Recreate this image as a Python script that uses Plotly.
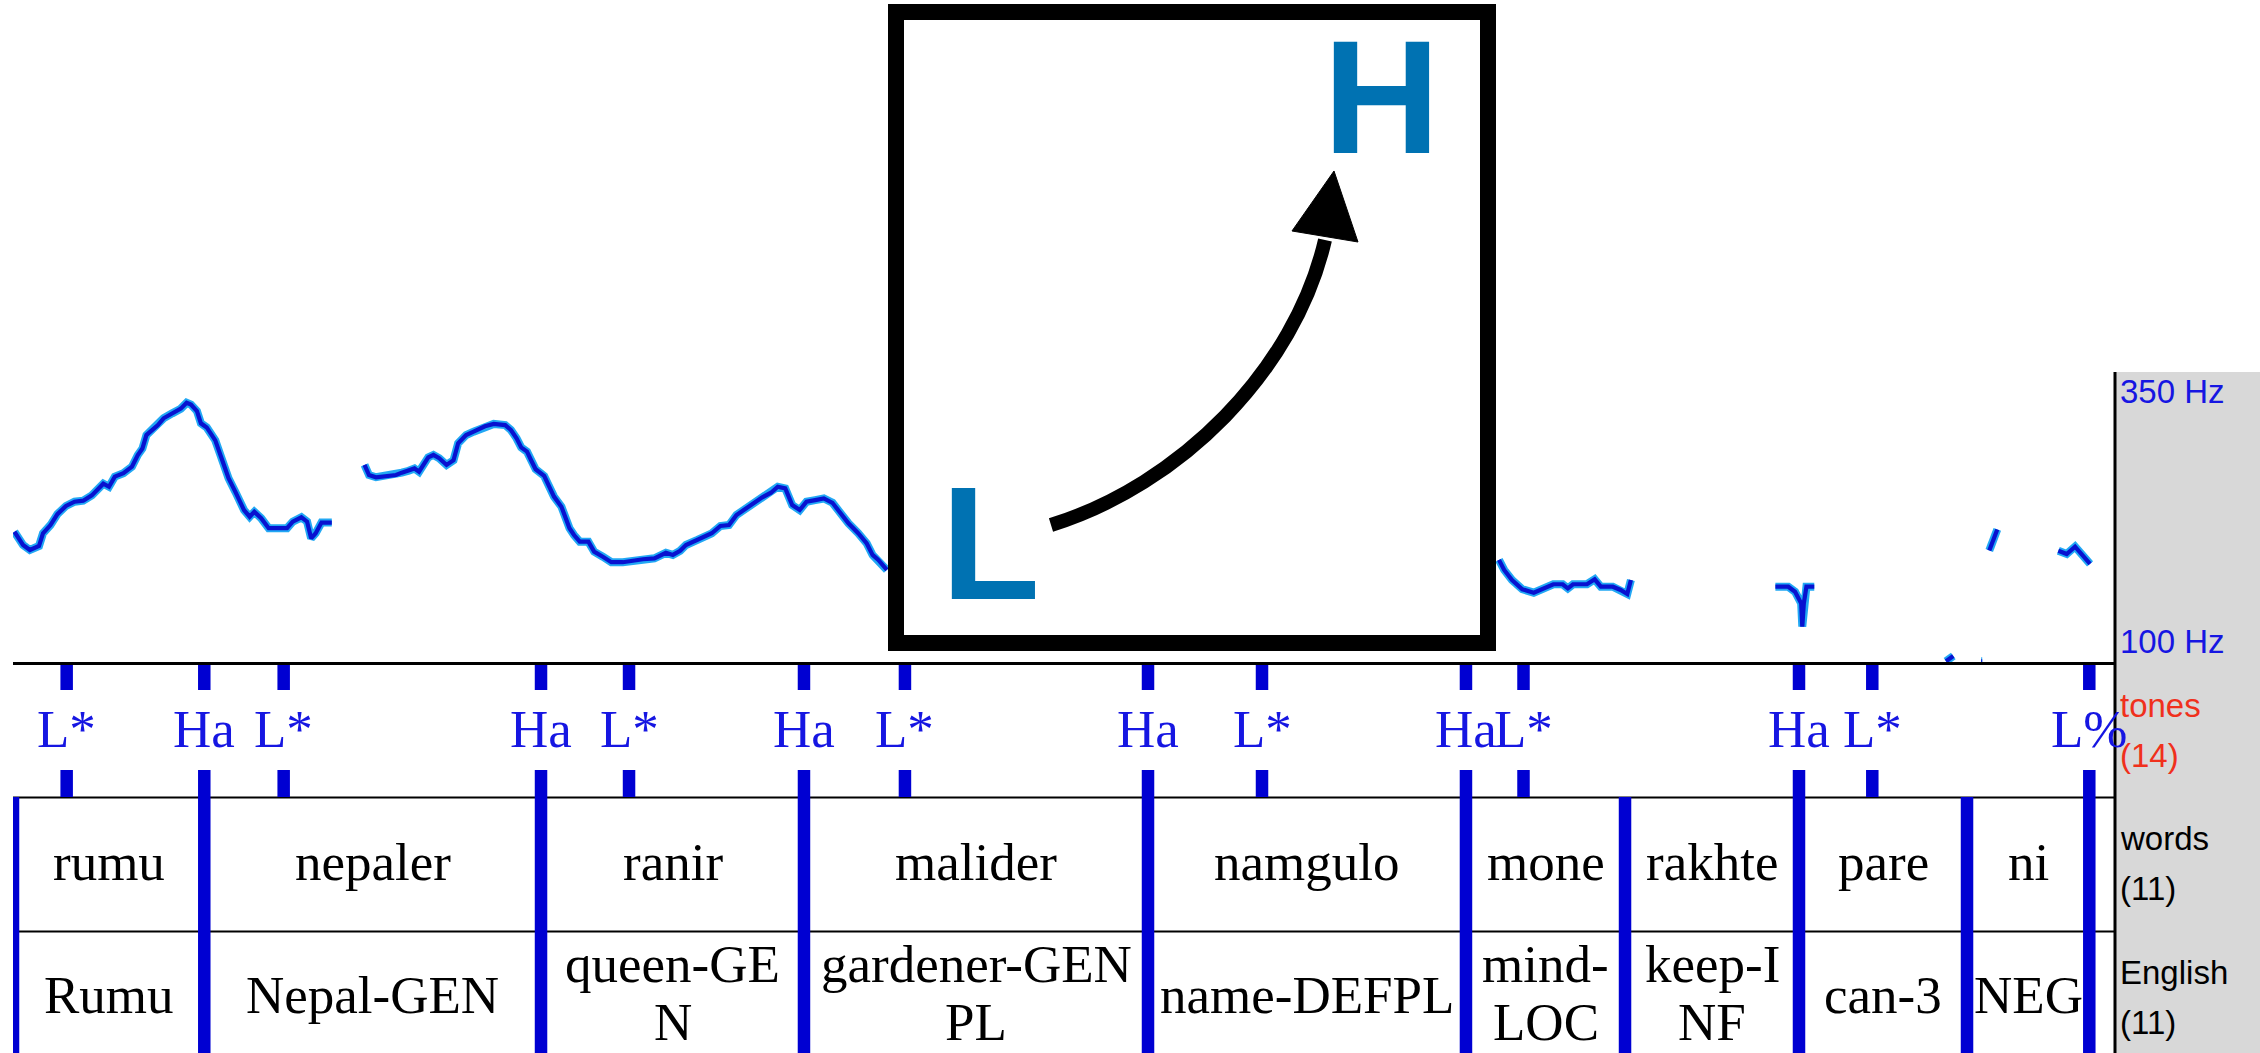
import plotly.graph_objects as go

W, H = 2260, 1053

# ---------------- data ----------------
T_MAX = 3.0                      # seconds shown
F_MIN, F_MAX = 100, 350          # Hz range of pitch panel

# pitch contour segments: (time s, F0 Hz)
contour_rumu = [(0.0020, 212), (0.0143, 200.7), (0.0241, 196.4), (0.0371, 199.8), (0.0428, 210.7),
                (0.0535, 217.7), (0.0634, 227), (0.0756, 234), (0.0879, 237.6), (0.1002, 238.5),
                (0.1125, 243), (0.1207, 248), (0.1289, 253), (0.1370, 250.4), (0.1453, 259),
                (0.1576, 262), (0.1698, 267.5), (0.1781, 277.5), (0.1847, 283), (0.1904, 294.5),
                (0.1984, 299), (0.2068, 303), (0.2149, 308.8), (0.2272, 313), (0.2395, 317),
                (0.2478, 322), (0.2540, 320.5), (0.2625, 315), (0.2682, 304.5), (0.2765, 301),
                (0.2887, 290), (0.2969, 276), (0.3076, 257.6), (0.3174, 246), (0.3297, 230.5),
                (0.3378, 224.8), (0.3444, 229), (0.3542, 223.5), (0.3649, 215), (0.3911, 215),
                (0.3993, 220.6), (0.4116, 224.3), (0.4197, 220.6), (0.4255, 206.4), (0.4320, 210.7),
                (0.4403, 219.8), (0.4550, 219.8)]
contour_mid = [(0.5017, 269), (0.5081, 260.4), (0.5181, 258.5), (0.5304, 259.6), (0.5466, 260.4),
               (0.5549, 262.4), (0.5648, 264), (0.5730, 266), (0.5795, 263.2), (0.5860, 269),
               (0.5926, 275.5), (0.6000, 277.5), (0.6083, 274.7), (0.6188, 269), (0.6287, 273),
               (0.6353, 287.5), (0.6467, 294.5), (0.6574, 297.4), (0.6736, 302), (0.6861, 304),
               (0.7025, 303), (0.7106, 298.8), (0.7187, 291.7), (0.7253, 284), (0.7336, 280.3),
               (0.7393, 273.2), (0.7459, 265.3), (0.7581, 259.6), (0.7664, 249), (0.7721, 242),
               (0.7827, 233.4), (0.7884, 223.5), (0.7942, 215), (0.8007, 209.2), (0.8089, 203.5),
               (0.8212, 203.5), (0.8294, 195), (0.8418, 190.7), (0.8540, 186), (0.8703, 186),
               (0.8827, 187.3), (0.8991, 188.5), (0.9154, 189.3), (0.9318, 194), (0.9417, 192.2),
               (0.9522, 195.8), (0.9605, 200.7), (0.9769, 205), (0.9973, 210.7), (1.0096, 216.9),
               (1.0219, 217.7), (1.0326, 226.3), (1.0466, 232), (1.0590, 236.3), (1.0694, 241.4),
               (1.0818, 245.3), (1.0915, 250.4), (1.1022, 249), (1.1121, 234.8), (1.1228, 230.5),
               (1.1325, 237.6), (1.1449, 239), (1.1572, 240.4), (1.1695, 236.7), (1.1793, 229),
               (1.1924, 219.2), (1.2063, 210.7), (1.2185, 202), (1.2268, 192.2), (1.2350, 187.9),
               (1.2472, 179.4)]
contour_mone = [(2.1208, 188), (2.1282, 179.4), (2.1394, 170.8), (2.1541, 162.9), (2.1704, 160),
                (2.1837, 163.7), (2.1984, 167.2), (2.2117, 167.2), (2.2191, 163.7), (2.2265, 167.2),
                (2.2464, 167.2), (2.2574, 171.4), (2.2662, 165.1), (2.2832, 165.1), (2.2944, 162.3),
                (2.3039, 158.9), (2.3091, 170.8)]
contour_pare = [(2.5153, 165.1), (2.5337, 165.1), (2.5433, 160.8), (2.5521, 150.9), (2.5537, 131),
                (2.5559, 150.9), (2.5596, 165.1), (2.5708, 165.1)]
contour_ni_a = [(2.7588, 101.5), (2.7692, 106)]
contour_ni_b = [(2.8090, 101.5), (2.8105, 101.5)]
contour_ni_c = [(2.8206, 196), (2.8320, 214)]
contour_end = [(2.9191, 195.8), (2.9311, 193), (2.9430, 199.3), (2.9525, 192.2), (2.9644, 184.5)]

tone_times = [0.0766, 0.2730, 0.3863, 0.7536, 0.8792, 1.1289, 1.2730,
              1.6199, 1.7826, 2.0737, 2.1558, 2.5490, 2.6536, 2.9633]
tone_labels = ["L*", "Ha", "L*", "Ha", "L*", "Ha", "L*",
               "Ha", "L*", "Ha", "L*", "Ha", "L*", "L%"]

word_bounds = [0.0, 0.2730, 0.7536, 1.1289, 1.6199, 2.0737, 2.3007, 2.5490, 2.7888, 2.9633]
words = ["rumu", "nepaler", "ranir", "malider", "namgulo", "mone", "rakhte", "pare", "ni"]
english = ["Rumu", "Nepal-GEN", "queen-GE\nN", "gardener-GEN\nPL", "name-DEFPL",
           "mind-\nLOC", "keep-I\nNF", "can-3", "NEG"]

tier_names = ["tones", "words", "English"]
tier_counts = ["(14)", "(11)", "(11)"]

# ---------------- style ----------------
SERIF = "Liberation Serif, Times New Roman, serif"
SANS = "Liberation Sans, Arial, sans-serif"
BLUE_LINE = "#0000D2"
BLUE_TEXT = "#1616E2"
RED = "#F0301C"
LH_BLUE = "#0072B2"


def px(x):
    return x / W


def py(y):
    return 1 - y / H


pitch_t, pitch_f = [], []
for seg in [contour_rumu, contour_mid, contour_mone, contour_pare,
            contour_ni_a, contour_ni_b, contour_ni_c, contour_end]:
    pitch_t += [p[0] for p in seg] + [None]
    pitch_f += [p[1] for p in seg] + [None]

fig = go.Figure()
fig.add_trace(go.Scatter(x=pitch_t, y=pitch_f, mode="lines", connectgaps=False,
                         line=dict(color="#22A8F4", width=8), hoverinfo="skip", showlegend=False))
fig.add_trace(go.Scatter(x=pitch_t, y=pitch_f, mode="lines", connectgaps=False,
                         line=dict(color="#0812D0", width=4.2), hoverinfo="skip", showlegend=False))

shapes = []
# grey label column
shapes.append(dict(type="rect", xref="paper", yref="paper", x0=px(2116), x1=1, y0=0, y1=py(372),
                   fillcolor="#D8D8D8", line=dict(width=0), layer="below"))
shapes.append(dict(type="line", xref="paper", yref="paper", x0=px(2115), x1=px(2115), y0=0, y1=py(372),
                   line=dict(color="black", width=3)))
# tier separators
for yy, w in [(663.5, 3), (797.5, 2), (931.5, 2)]:
    shapes.append(dict(type="line", xref="x", yref="paper", x0=0, x1=T_MAX, y0=py(yy), y1=py(yy),
                       line=dict(color="black", width=w)))
# tone ticks
for t in tone_times:
    for a, b in [(665, 690), (770, 797)]:
        shapes.append(dict(type="line", xref="x", yref="paper", x0=t, x1=t, y0=py(a), y1=py(b),
                           line=dict(color=BLUE_LINE, width=12.5)))
# interval boundaries
for t in word_bounds:
    shapes.append(dict(type="line", xref="x", yref="paper", x0=t, x1=t, y0=py(797), y1=0,
                       line=dict(color=BLUE_LINE, width=12.5)))

# inset box with L -> H arrow
shapes.append(dict(type="rect", xref="paper", yref="paper", x0=px(896), x1=px(1488), y0=py(643), y1=py(12),
                   fillcolor="white", line=dict(color="black", width=16), layer="above"))


def pt(x, y):
    return f"{px(x):.5f},{py(y):.5f}"


shapes.append(dict(type="path", xref="paper", yref="paper",
                   path=f"M{pt(1051, 525)} C{pt(1180, 485)} {pt(1295, 370)} {pt(1325, 240)}",
                   line=dict(color="black", width=14), fillcolor="rgba(0,0,0,0)", layer="above"))
shapes.append(dict(type="path", xref="paper", yref="paper",
                   path=f"M{pt(1334, 171)} L{pt(1292, 231)} L{pt(1358, 242)} Z",
                   line=dict(color="black", width=1), fillcolor="black", layer="above"))

ann = []
for t, lab in zip(tone_times, tone_labels):
    ann.append(dict(x=t, xref="x", y=py(728.6), yref="paper", text=lab, showarrow=False,
                    xanchor="center", yanchor="middle", font=dict(family=SERIF, size=53, color=BLUE_TEXT)))
for i, w in enumerate(words):
    c = (word_bounds[i] + word_bounds[i + 1]) / 2
    ann.append(dict(x=c, xref="x", y=py(862), yref="paper", text=w, showarrow=False,
                    xanchor="center", yanchor="middle", font=dict(family=SERIF, size=53, color="black")))
for i, e in enumerate(english):
    c = (word_bounds[i] + word_bounds[i + 1]) / 2
    lines = e.split("\n")
    ys = [994.6] if len(lines) == 1 else [964.1, 1022.1]
    for ln, yy in zip(lines, ys):
        ann.append(dict(x=c, xref="x", y=py(yy), yref="paper", text=ln, showarrow=False,
                        xanchor="center", yanchor="middle", font=dict(family=SERIF, size=53, color="black")))

# frequency range labels
for txt, yy in [(f"{F_MAX} Hz", 391.9), (f"{F_MIN} Hz", 641.9)]:
    ann.append(dict(x=px(2118), xref="paper", y=py(yy), yref="paper", text=txt, showarrow=False,
                    xanchor="left", yanchor="middle", font=dict(family=SANS, size=33, color=BLUE_TEXT)))
# tier names
for (name, cnt, col, y1, y2) in [(tier_names[0], tier_counts[0], RED, 705.5, 755),
                                  (tier_names[1], tier_counts[1], "black", 838, 888),
                                  (tier_names[2], tier_counts[2], "black", 972, 1022)]:
    for txt, yy in [(name, y1), (cnt, y2)]:
        ann.append(dict(x=px(2118), xref="paper", y=py(yy), yref="paper", text=txt, showarrow=False,
                        xanchor="left", yanchor="middle", font=dict(family=SANS, size=33, color=col)))

# L and H in the inset
ann.append(dict(x=px(990), xref="paper", y=py(542), yref="paper", text="<b>L</b>", showarrow=False,
                xanchor="center", yanchor="middle", font=dict(family=SANS, size=162, color=LH_BLUE)))
ann.append(dict(x=px(1381), xref="paper", y=py(97), yref="paper", text="<b>H</b>", showarrow=False,
                xanchor="center", yanchor="middle", font=dict(family=SANS, size=162, color=LH_BLUE)))

fig.update_layout(
    width=W, height=H, margin=dict(l=0, r=0, t=0, b=0),
    paper_bgcolor="white", plot_bgcolor="rgba(0,0,0,0)",
    xaxis=dict(domain=[px(13), px(2115)], range=[0, T_MAX], visible=False, fixedrange=True),
    yaxis=dict(domain=[py(663), py(370)], range=[F_MIN, F_MAX], visible=False, fixedrange=True),
    shapes=shapes, annotations=ann, showlegend=False,
)

fig.write_html("out.html", config={"displayModeBar": False},
               post_script="document.body.style.margin='0';document.body.style.overflow='hidden';")
